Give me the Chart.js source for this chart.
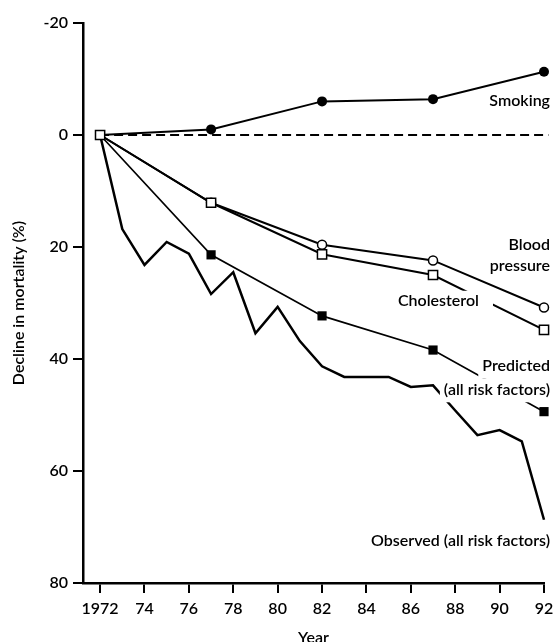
<!DOCTYPE html>
<html>
<head>
<meta charset="utf-8">
<script src="https://cdn.jsdelivr.net/npm/chart.js@4"></script>
<style>
html, body { margin: 0; padding: 0; background: #fff; }
#wrap { width: 555px; height: 642px; }
</style>
</head>
<body>
<div id="wrap"><canvas id="chart"></canvas></div>
<script>
// values (decline in mortality, %; negative = increase)
const surveyYears = [1972, 1977, 1982, 1987, 1992]
const smoking = [0, -1, -6, -6.4, -11.3]
const bloodPressure = [0, 12.1, 19.6, 22.4, 30.8]
const cholesterol = [0, 12.1, 21.3, 25, 34.8]
const predicted = [0, 21.4, 32.3, 38.4, 49.4]

const observedYears = [1972, 1973, 1974, 1975, 1976, 1977, 1978, 1979, 1980, 1981, 1982,
    1983, 1984, 1985, 1986, 1987, 1988, 1989, 1990, 1991, 1992]
const observed = [0, 16.8, 23.2, 19.1, 21.2, 28.4, 24.5, 35.4, 30.7, 36.8, 41.3,
    43.2, 43.2, 43.2, 45, 44.7, 49.2, 53.6, 52.7, 54.7, 68.7]

const yearTicks = [1972, 1974, 1976, 1978, 1980, 1982, 1984, 1986, 1988, 1990, 1992]
const declineTicks = [-20, 0, 20, 40, 60, 80]

const FONT = 'Lato, "Open Sans", sans-serif'
const WEIGHT = '600'

function pts(xs, ys) {
    return xs.map((x, i) => ({ x: x, y: ys[i] }))
}

// text labels next to the lines, anchored in data units
const notes = [
    { lines: ['Smoking'], x: 1992.27, y: -6.1, align: 'right' },
    { lines: ['Blood', 'pressure'], x: 1992.27, y: 19.6, align: 'right', gap: 21 },
    { lines: ['Cholesterol'], x: 1985.42, y: 29.6, align: 'left', mask: [5, 14, 10] },
    { lines: ['Predicted', '(all risk factors)'], x: 1992.27, y: 41.3, align: 'right', gap: 24, mask: [4, 4, 12] },
    { lines: ['Observed (all risk factors)'], x: 1992.27, y: 72.5, align: 'right' }
]

const notePlugin = {
    id: 'notes',
    afterDatasetsDraw(chart) {
        const ctx = chart.ctx
        const xs = chart.scales.x
        const ys = chart.scales.y
        ctx.save()
        ctx.font = WEIGHT + ' 16px ' + FONT
        ctx.textBaseline = 'middle'
        ctx.textAlign = 'left'
        notes.forEach(n => {
            const px = xs.getPixelForValue(n.x)
            const py = ys.getPixelForValue(n.y)
            n.lines.forEach((t, i) => {
                const w = ctx.measureText(t).width
                const y = py + i * (n.gap || 21)
                const left = n.align === 'right' ? px - w : px
                if (n.mask) {
                    ctx.fillStyle = '#fff'
                    ctx.fillRect(left - n.mask[0], y - n.mask[2], w + n.mask[0] + n.mask[1], n.mask[2] * 2)
                }
                ctx.fillStyle = '#000'
                ctx.fillText(t, left, y)
            })
        })
        ctx.restore()
    }
}

const ctx = document.getElementById('chart')
const chart = new Chart(ctx, {
    type: 'line',
    data: {
        datasets: [
            {
                label: 'Cholesterol',
                data: pts(surveyYears, cholesterol),
                borderColor: '#000',
                borderWidth: 2,
                pointStyle: 'rect',
                pointRadius: 6.5,
                pointBackgroundColor: '#fff',
                pointBorderColor: '#000',
                pointBorderWidth: 1.5
            },
            {
                label: 'Blood pressure',
                data: pts(surveyYears, bloodPressure),
                borderColor: '#000',
                borderWidth: 2,
                pointStyle: 'circle',
                pointRadius: [0, 4.5, 4.5, 4.5, 4.5],
                pointBackgroundColor: '#fff',
                pointBorderColor: '#000',
                pointBorderWidth: 1.5
            },
            {
                label: 'Smoking',
                data: pts(surveyYears, smoking),
                borderColor: '#000',
                borderWidth: 2,
                pointStyle: 'circle',
                pointRadius: [0, 5, 5, 5, 5],
                pointBackgroundColor: '#000',
                pointBorderColor: '#000',
                pointBorderWidth: 0
            },
            {
                label: 'Predicted',
                data: pts(surveyYears, predicted),
                borderColor: '#000',
                borderWidth: 1.7,
                pointStyle: 'rect',
                pointRadius: [0, 6.5, 6.5, 6.5, 6.5],
                pointBackgroundColor: '#000',
                pointBorderColor: '#000',
                pointBorderWidth: 0
            },
            {
                label: 'Observed',
                data: pts(observedYears, observed),
                borderColor: '#000',
                borderWidth: 2.5,
                pointRadius: 0
            },
            {
                label: 'zero',
                data: pts([1972, 1992.2], [0, 0]),
                borderColor: '#000',
                borderWidth: 1.8,
                borderDash: [9, 5],
                pointRadius: 0
            }
        ]
    },
    options: {
        responsive: true,
        maintainAspectRatio: false,
        animation: false,
        clip: false,
        layout: { padding: { top: 23, right: 11, left: 0, bottom: 0 } },
        plugins: {
            legend: { display: false },
            tooltip: { enabled: false }
        },
        scales: {
            x: {
                type: 'linear',
                min: 1971.23,
                max: 1992,
                afterFit: s => { s.height = 59; s.paddingLeft = 0; s.paddingRight = 0 },
                afterBuildTicks: s => { s.ticks = yearTicks.map(v => ({ value: v })) },
                ticks: {
                    color: '#000',
                    padding: 6,
                    maxRotation: 0,
                    font: { family: FONT, size: 16, weight: WEIGHT },
                    callback: v => v === 1972 ? '1972' : String(v).slice(2)
                },
                grid: { drawOnChartArea: false, drawTicks: true, tickLength: 10, color: '#000', lineWidth: 2 },
                border: { display: true, color: '#000', width: 2.5 },
                title: {
                    display: true,
                    text: 'Year',
                    color: '#000',
                    font: { family: FONT, size: 16, weight: WEIGHT },
                    padding: { top: 0, bottom: -5 }
                }
            },
            y: {
                reverse: true,
                min: -20,
                max: 80,
                afterFit: s => { s.width = 83 },
                afterBuildTicks: s => { s.ticks = declineTicks.map(v => ({ value: v })) },
                ticks: {
                    color: '#000',
                    padding: 5,
                    font: { family: FONT, size: 16, weight: WEIGHT }
                },
                grid: { drawOnChartArea: false, drawTicks: true, tickLength: 10, color: '#000', lineWidth: 2 },
                border: { display: true, color: '#000', width: 2.5 },
                title: {
                    display: true,
                    text: 'Decline in mortality (%)',
                    color: '#000',
                    font: { family: FONT, size: 16, weight: WEIGHT },
                    padding: { top: 9, bottom: 0 }
                }
            }
        }
    },
    plugins: [notePlugin]
})
</script>
</body>
</html>
